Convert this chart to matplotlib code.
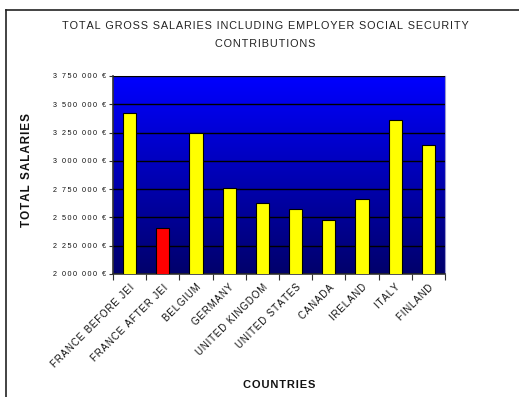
import numpy as np
import matplotlib
matplotlib.use("Agg")
import matplotlib.pyplot as plt
from matplotlib.lines import Line2D
from matplotlib.ticker import FuncFormatter, MultipleLocator

plt.rcParams['font.family'] = ['Liberation Sans', 'DejaVu Sans']

countries = ["FRANCE BEFORE JEI", "FRANCE AFTER JEI", "BELGIUM", "GERMANY",
             "UNITED KINGDOM", "UNITED STATES", "CANADA", "IRELAND", "ITALY", "FINLAND"]
salaries = [3420000, 2404000, 3243000, 2764000, 2626000, 2578000, 2475000,
            2664000, 3361000, 3142000]
bar_colors = ["#FFFF00", "#FF0000", "#FFFF00", "#FFFF00", "#FFFF00", "#FFFF00",
              "#FFFF00", "#FFFF00", "#FFFF00", "#FFFF00"]
y_min, y_max, y_step = 2000000, 3750000, 250000

HAIR = "\u200a"


def spaced(s, sep=HAIR):
    """Loosen the letter spacing of a label."""
    return sep.join(s)


W, H = 519, 397
fig = plt.figure(figsize=(W / 100, H / 100), dpi=100)
fig.patch.set_facecolor("white")

ax = fig.add_axes([113 / W, 1 - 274 / H, (445 - 113) / W, (274 - 76) / H])

# vertical blue gradient behind the bars
grad = np.linspace(0, 1, 256).reshape(-1, 1)
top_c = np.array([0.0, 0.0, 1.0])
bot_c = np.array([0.0, 0.0, 0.42])
img = (bot_c[None, None, :] * (1 - grad[..., None]) + top_c[None, None, :] * grad[..., None])
ax.imshow(img, origin="lower", aspect="auto", extent=(-0.5, len(countries) - 0.5, y_min, y_max),
          zorder=0, interpolation="bilinear")

x = np.arange(len(countries))
ax.bar(x, salaries, width=0.4, color=bar_colors, edgecolor="black", linewidth=0.8, zorder=3)

ax.set_xlim(-0.5, len(countries) - 0.5)
ax.set_ylim(y_min, y_max)
ax.yaxis.set_major_locator(MultipleLocator(y_step))
ax.yaxis.set_major_formatter(
    FuncFormatter(lambda v, p: spaced(f"{int(v):,} €".replace(",", " "), "\u2009")))
ax.grid(axis="y", color="black", linewidth=1.0, zorder=1)
ax.set_axisbelow(False)
for line in ax.get_ygridlines():
    line.set_zorder(1)

ax.set_xticks(np.arange(len(countries) + 1) - 0.5)
ax.set_xticklabels([])
ax.tick_params(axis="x", which="major", length=4, width=0.8, color="#333333")
ax.set_xticks(x, minor=True)
ax.set_xticklabels([spaced(c) for c in countries], minor=True, rotation=45, ha="right",
                   va="top", rotation_mode="anchor", fontsize=7.0, color="#111111")
ax.tick_params(axis="x", which="minor", length=0, pad=6)
ax.tick_params(axis="y", length=3, width=0.8, color="#333333", labelsize=5.2, pad=2,
               labelcolor="#111111")

for side in ("top", "right"):
    ax.spines[side].set_color("#9a9acc")
    ax.spines[side].set_linewidth(0.8)
for side in ("left", "bottom"):
    ax.spines[side].set_color("#333333")
    ax.spines[side].set_linewidth(1.2)

title_kw = dict(ha="center", va="center", fontsize=7.8, color="#222222")
fig.text(265 / W, 1 - 26 / H, spaced("TOTAL GROSS SALARIES INCLUDING EMPLOYER SOCIAL SECURITY"),
         **title_kw)
fig.text(265 / W, 1 - 44 / H, spaced("CONTRIBUTIONS"), **title_kw)
fig.text(27 / W, 1 - 170 / H, spaced("TOTAL SALARIES"), rotation=90, ha="center", va="center",
         fontsize=8.4, fontweight="bold", color="#111111")
fig.text(279 / W, 1 - 385 / H, spaced("COUNTRIES"), ha="center", va="center",
         fontsize=8, fontweight="bold", color="#111111")

# outer chart frame (top and left edges)
fig.add_artist(Line2D([6 / W, 1], [1 - 10 / H, 1 - 10 / H], transform=fig.transFigure,
                      color="#222222", linewidth=1.2))
fig.add_artist(Line2D([6 / W, 6 / W], [0, 1 - 10 / H], transform=fig.transFigure,
                      color="#222222", linewidth=1.2))

fig.savefig("out.png", dpi=100)
